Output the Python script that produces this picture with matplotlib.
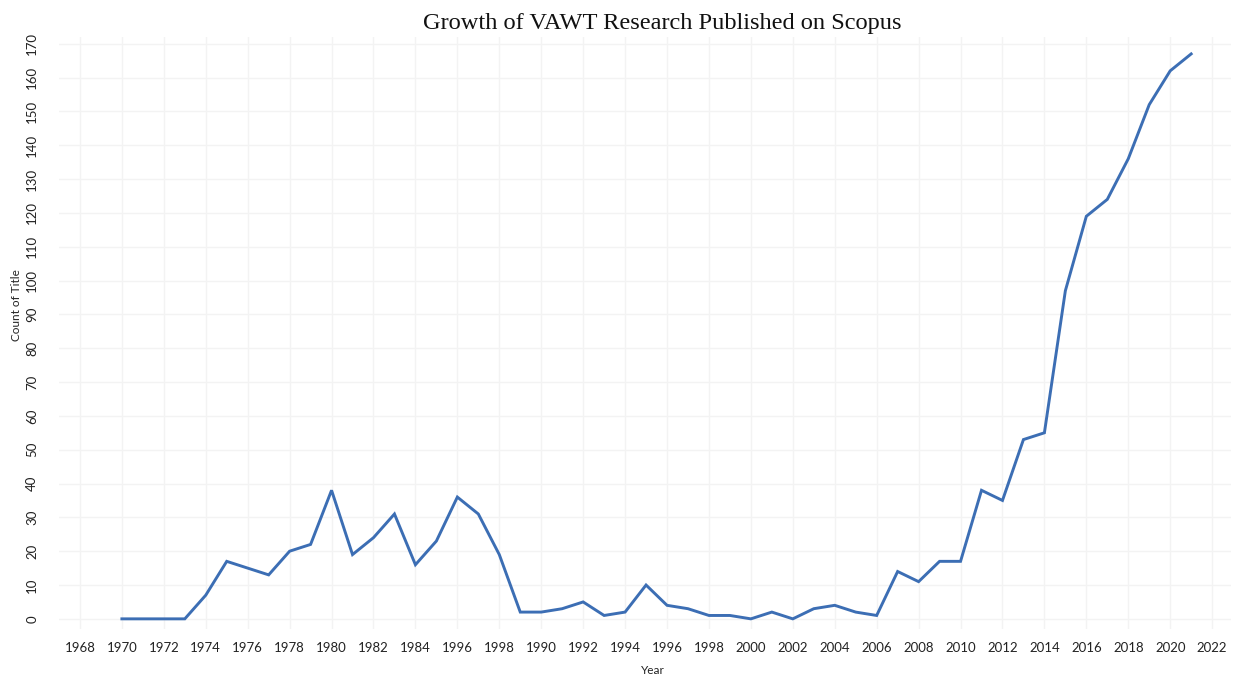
import matplotlib
matplotlib.use('Agg')
import matplotlib.pyplot as plt

years = list(range(1970, 2022))
counts = [0, 0, 0, 0, 7, 17, 15, 13, 20, 22,
          38, 19, 24, 31, 16, 23, 36, 31, 19, 2,
          2, 3, 5, 1, 2, 10, 4, 3, 1, 1,
          0, 2, 0, 3, 4, 2, 1, 14, 11, 17,
          17, 38, 35, 53, 55, 97, 119, 124, 136, 152,
          162, 167]

tick_years = list(range(1968, 2023, 2))
# labels as printed on the original (1986/1988 appear as 1996/1998)
tick_labels = ['1968', '1970', '1972', '1974', '1976', '1978', '1980', '1982',
               '1984', '1996', '1998', '1990', '1992', '1994', '1996', '1998',
               '2000', '2002', '2004', '2006', '2008', '2010', '2012', '2014',
               '2016', '2018', '2020', '2022']
y_ticks = list(range(0, 171, 10))

W, H = 1233, 675
fig = plt.figure(figsize=(W / 100, H / 100), dpi=100)
left, right, bottom, top = 59, 1231, 629, 37
ax = fig.add_axes([left / W, 1 - bottom / H, (right - left) / W, (bottom - top) / H])

ax.plot(years, counts, color='#3c6eb4', lw=2.1, solid_joinstyle='miter')

ax.set_xlim(1967, 2022.9)
ax.set_ylim(-3, 172)
ax.set_xticks(tick_years)
ax.set_xticklabels(tick_labels)
ax.set_yticks(y_ticks)
ax.set_yticklabels([str(v) for v in y_ticks], rotation=90, va='center')

for lab in ax.get_xticklabels() + ax.get_yticklabels():
    lab.set_fontfamily('Lato')
    lab.set_fontsize(9.5)
    lab.set_color('#222222')

ax.tick_params(axis='both', length=0)
ax.tick_params(axis='y', pad=15)
ax.tick_params(axis='x', pad=9)
ax.grid(True, color='#f3f3f3', lw=1)
ax.set_axisbelow(True)
for sp in ax.spines.values():
    sp.set_visible(False)

fig.text(662 / W, 1 - 23 / H, 'Growth of VAWT Research Published on Scopus',
         ha='center', va='center', family='Liberation Serif', fontsize=17.6, color='#111111')
fig.text(16 / W, 1 - 305 / H, 'Count of Title', rotation=90, ha='center', va='center',
         family='Lato', fontsize=8.5, color='#222222')
fig.text(653 / W, 1 - 670 / H, 'Year', ha='center', va='center',
         family='Lato', fontsize=8.5, color='#222222')

fig.savefig('out.png', dpi=100)
